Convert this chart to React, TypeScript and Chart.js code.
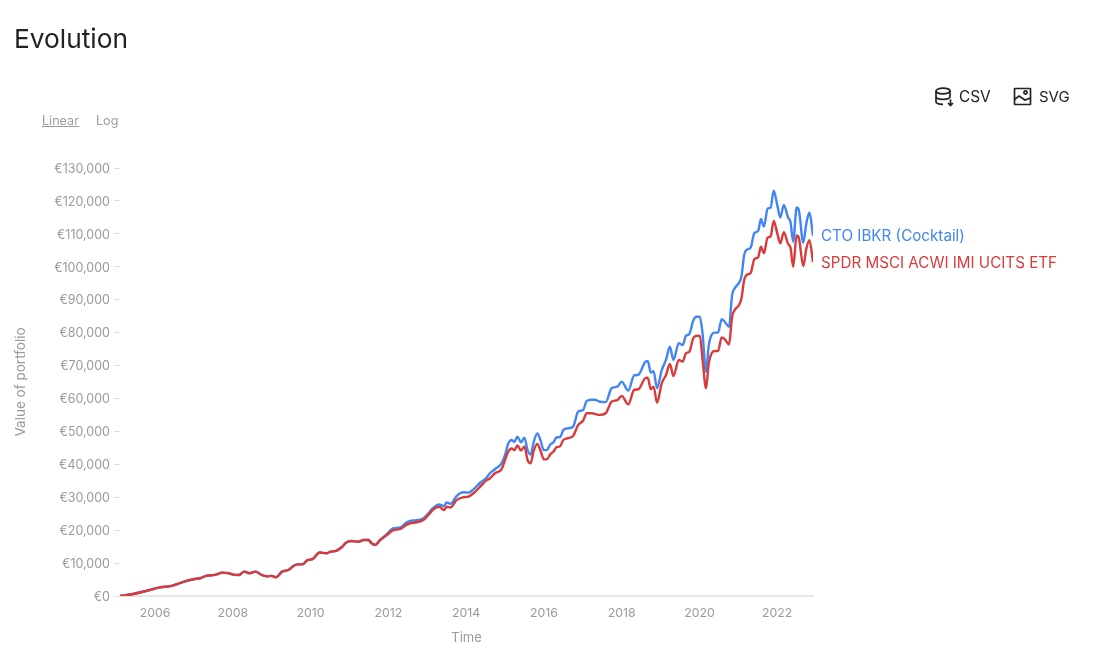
import React, { useEffect, useRef } from "react";
import { Chart, registerables } from "chart.js";

Chart.register(...registerables);

const years = [
  2005.1, 2005.44, 2005.79, 2006.13, 2006.43, 2006.73, 2006.99, 2007.16, 2007.33, 2007.54, 2007.73, 2007.9,
  2008.01, 2008.16, 2008.29, 2008.43, 2008.59, 2008.74, 2008.87, 2009.0, 2009.11, 2009.27, 2009.43, 2009.56,
  2009.66, 2009.79, 2009.92, 2010.05, 2010.23, 2010.41, 2010.5, 2010.67, 2010.8, 2010.91, 2011.06, 2011.23,
  2011.36, 2011.49, 2011.57, 2011.66, 2011.79, 2011.96, 2012.13, 2012.3, 2012.46, 2012.56, 2012.73, 2012.9,
  2013.03, 2013.16, 2013.31, 2013.43, 2013.5, 2013.6, 2013.76, 2013.93, 2014.06, 2014.19, 2014.36, 2014.53,
  2014.61, 2014.74, 2014.91, 2015.0, 2015.08, 2015.17, 2015.24, 2015.32, 2015.41, 2015.5, 2015.58, 2015.66,
  2015.73, 2015.83, 2015.91, 2016.0, 2016.07, 2016.17, 2016.24, 2016.33, 2016.41, 2016.5, 2016.6, 2016.75,
  2016.88, 2017.01, 2017.1, 2017.23, 2017.31, 2017.44, 2017.59, 2017.74, 2017.89, 2018.0, 2018.17, 2018.32,
  2018.43, 2018.6, 2018.67, 2018.75, 2018.82, 2018.91, 2019.03, 2019.14, 2019.24, 2019.33, 2019.47, 2019.57,
  2019.65, 2019.74, 2019.84, 2019.92, 2020.01, 2020.08, 2020.17, 2020.24, 2020.4, 2020.48, 2020.57, 2020.65,
  2020.76, 2020.84, 2020.91, 2021.02, 2021.08, 2021.15, 2021.21, 2021.32, 2021.41, 2021.51, 2021.58, 2021.66,
  2021.75, 2021.83, 2021.91, 2022.0, 2022.08, 2022.17, 2022.28, 2022.34, 2022.41, 2022.5, 2022.56, 2022.67,
  2022.75, 2022.83, 2022.92,
];

const cocktail = [
  0, 600, 1600, 2600, 3100, 4300, 5100, 5400, 6200, 6400, 7100, 6900,
  6500, 6400, 7400, 6900, 7400, 6400, 6000, 6100, 5700, 7400, 7900, 9100,
  9600, 9600, 10900, 11200, 13200, 13000, 13400, 13800, 14800, 16200, 16700, 16500,
  17000, 17000, 16000, 15500, 17100, 18800, 20600, 20800, 22300, 22800, 23000, 23600,
  25100, 26800, 27800, 27300, 28400, 28000, 30400, 31500, 31400, 32400, 34400, 36000,
  37300, 38500, 40300, 42800, 46200, 47400, 46800, 48400, 46700, 48100, 44300, 43000,
  46400, 49400, 47400, 44300, 44300, 46100, 46600, 48200, 48200, 50400, 50900, 51400,
  56000, 56500, 59200, 59600, 59600, 59000, 58900, 63100, 63600, 65100, 62400, 67000,
  67200, 71000, 71400, 67800, 68300, 63100, 68600, 71700, 75700, 71700, 76800, 76200,
  79000, 79600, 83600, 84800, 84800, 79800, 68100, 76200, 80000, 80000, 84100, 83300,
  81800, 91400, 93500, 95200, 97000, 103600, 105100, 105900, 110200, 110900, 114500, 112200,
  117600, 118000, 123100, 118800, 115000, 118800, 114900, 113700, 107600, 118000, 117000, 107300,
  113200, 116500, 109400,
];

const spdr = [
  0, 600, 1600, 2600, 3100, 4300, 5100, 5400, 6200, 6400, 7100, 6900,
  6500, 6400, 7400, 6900, 7400, 6400, 6000, 6100, 5700, 7400, 7900, 9100,
  9600, 9600, 10900, 11200, 13200, 13000, 13400, 13800, 14800, 16200, 16700, 16500,
  17000, 17000, 16000, 15500, 17000, 18500, 20000, 20300, 21600, 22100, 22400, 23100,
  24600, 26300, 27100, 26100, 27100, 26900, 29200, 30000, 30200, 31200, 33200, 35200,
  35700, 37300, 38500, 41300, 43800, 44800, 44300, 45700, 44200, 45400, 41300, 40300,
  43800, 46200, 44300, 41500, 41500, 43100, 43800, 45200, 45400, 47400, 47900, 48600,
  51900, 53300, 55500, 55500, 55300, 55000, 55500, 59000, 59500, 60800, 58200, 62600,
  62800, 66100, 66300, 62800, 63600, 58700, 64600, 67100, 70500, 66800, 71700, 71200,
  73700, 74200, 78300, 79000, 79100, 71700, 63100, 70700, 74400, 74400, 78500, 78000,
  76400, 84800, 86900, 88400, 90400, 96000, 97500, 98200, 102300, 102900, 106100, 104100,
  108800, 109200, 113900, 110200, 107100, 110500, 106900, 105900, 100000, 109500, 108600, 100200,
  105600, 108100, 101400,
];

const xTickYears = [2006, 2008, 2010, 2012, 2014, 2016, 2018, 2020, 2022];
const seriesNames = ["CTO IBKR (Cocktail)", "SPDR MSCI ACWI IMI UCITS ETF"];
const seriesColors = ["#4285f4", "#d93a3a"];
const FONT = "Inter, sans-serif";
const GREY = "#9b9b9b";

const endLabels = {
  id: "endLabels",
  afterDatasetsDraw(chart: any) {
    const { ctx, scales } = chart;
    ctx.save();
    ctx.font = `15.2px ${FONT}`;
    ctx.textBaseline = "middle";
    chart.data.datasets.forEach((ds: any, i: number) => {
      const last = ds.data[ds.data.length - 1];
      ctx.fillStyle = seriesColors[i];
      ctx.fillText(seriesNames[i], scales.x.getPixelForValue(last.x) + 8, scales.y.getPixelForValue(last.y) + 1);
    });
    ctx.restore();
  },
};

const abs = (left: number, top: number, extra: any = {}) => ({
  position: "absolute" as const,
  left,
  top,
  whiteSpace: "nowrap" as const,
  fontFamily: FONT,
  ...extra,
});

export default function App() {
  const ref = useRef<HTMLCanvasElement>(null);
  useEffect(() => {
    const chart = new Chart(ref.current!, {
      type: "line",
      data: {
        datasets: [cocktail, spdr].map((values, i) => ({
          label: seriesNames[i],
          data: values.map((y, k) => ({ x: years[k], y })),
          borderColor: seriesColors[i],
          backgroundColor: seriesColors[i],
          borderWidth: 2.4,
          pointRadius: 0,
          order: 1 - i,
          cubicInterpolationMode: "monotone" as const,
        })),
      },
      options: {
        responsive: false,
        animation: false,
        layout: { padding: { left: 13, top: 168, right: 287, bottom: 0 } },
        plugins: { legend: { display: false }, tooltip: { enabled: false } },
        scales: {
          x: {
            type: "linear",
            min: 2005.1,
            max: 2022.92,
            afterBuildTicks: (s: any) => {
              s.ticks = xTickYears.map((value) => ({ value }));
            },
            afterFit: (s: any) => {
              s.height = 64;
            },
            grid: { display: false },
            border: { display: true, color: "#e6e6e6", width: 2 },
            ticks: {
              color: GREY,
              padding: 2,
              maxRotation: 0,
              autoSkip: false,
              font: { family: FONT, size: 12.3 },
              callback: (v: any) => String(v),
            },
            title: {
              display: true,
              text: "Time",
              color: GREY,
              font: { family: FONT, size: 13 },
              padding: { top: 0, bottom: 14 },
            },
          },
          y: {
            min: 0,
            max: 130000,
            afterFit: (s: any) => {
              s.width = 107;
            },
            grid: { display: true, drawOnChartArea: false, drawTicks: true, tickLength: 6, color: "#dddddd" },
            border: { display: false },
            ticks: {
              color: GREY,
              padding: 4,
              stepSize: 10000,
              labelOffset: 1,
              font: { family: FONT, size: 12.5 },
              callback: (v: any) => "€" + Number(v).toLocaleString("en-US"),
            },
            title: {
              display: true,
              text: "Value of portfolio",
              color: GREY,
              font: { family: FONT, size: 13.5 },
              padding: { top: 0, bottom: 0 },
            },
          },
        },
      },
      plugins: [endLabels],
    } as any);
    return () => chart.destroy();
  }, []);

  return (
    <div style={{ position: "absolute", left: 0, top: 0, width: 1100, height: 660, overflow: "hidden", background: "#fff" }}>
      <canvas ref={ref} width={1100} height={660} style={{ position: "absolute", left: 0, top: 0, display: "block" }} />
      <div style={abs(14, 21, { fontSize: 26.3, lineHeight: "36px", color: "#222" })}>Evolution</div>
      <div style={abs(42, 112, { fontSize: 12.6, lineHeight: "17px", color: GREY, textDecoration: "underline" })}>Linear</div>
      <div style={abs(96, 112, { fontSize: 12.6, lineHeight: "17px", color: GREY })}>Log</div>
      <svg style={{ position: "absolute", left: 935, top: 87 }} width={20} height={20} viewBox="0 0 20 20" fill="none" stroke="#222" strokeWidth={1.7}>
        <ellipse cx={8} cy={4} rx={7} ry={2.8} />
        <path d="M1 4v10.500c0 1.600 3 2.800 7 2.800M15 4v6M1 9.500c0 1.600 3 2.800 7 2.800s7-1.200 7-2.800" />
        <path d="M15.500 12.500v6M13 16l2.500 2.500L18 16" />
      </svg>
      <div style={abs(959, 88, { fontSize: 15.4, lineHeight: "17px", color: "#222" })}>CSV</div>
      <svg style={{ position: "absolute", left: 1013, top: 87 }} width={19} height={19} viewBox="0 0 19 19" fill="none" stroke="#222" strokeWidth={1.7}>
        <rect x={1.500} y={1.500} width={16} height={16} rx={0.5} />
        <circle cx={12.500} cy={5.500} r={1.600} />
        <path d="M1.500 12.500L6 9l6 4 5.500 -2" />
      </svg>
      <div style={abs(1039, 88, { fontSize: 15, lineHeight: "17px", color: "#222" })}>SVG</div>
    </div>
  );
}
